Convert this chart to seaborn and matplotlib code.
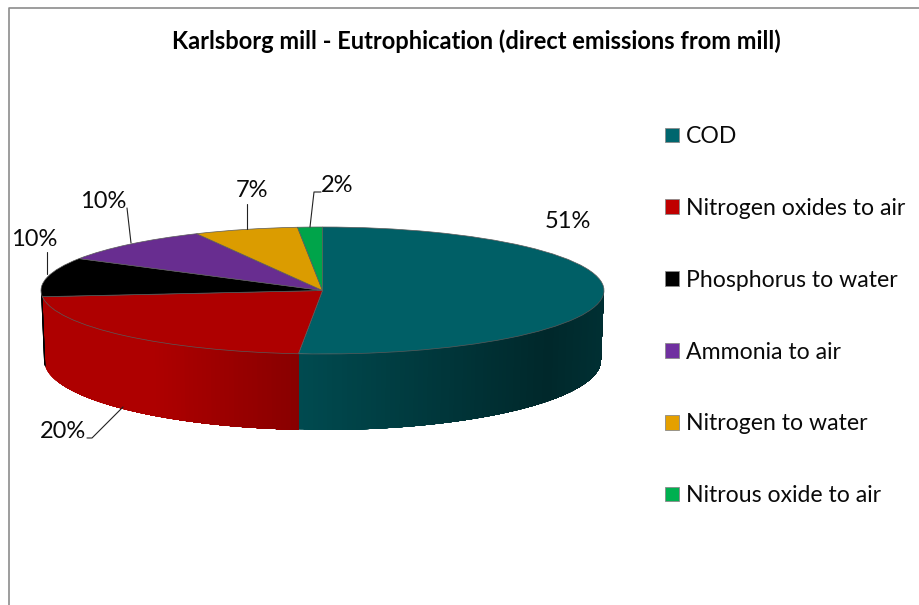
import numpy as np
import matplotlib
matplotlib.use("Agg")
import matplotlib.pyplot as plt
from matplotlib.colors import to_rgb
from matplotlib.patches import Patch
from matplotlib.lines import Line2D
import seaborn as sns

categories = ["COD", "Nitrogen oxides to air", "Phosphorus to water",
              "Ammonia to air", "Nitrogen to water", "Nitrous oxide to air"]
shares = [51, 20, 10, 10, 7, 2]
pct_labels = ["51%", "20%", "10%", "10%", "7%", "2%"]
title = "Karlsborg mill - Eutrophication (direct emissions from mill)"
top_colors = ["#005F66", "#AE0000", "#000000", "#682D90", "#DB9C00", "#00A44A"]
legend_colors = ["#00666E", "#C00000", "#000000", "#7030A0", "#E5A000", "#00B050"]

W, H = 920, 605
sns.set_theme(style="white")
plt.rcParams["font.family"] = ["Lato", "DejaVu Sans"]
palette = sns.color_palette(top_colors)

fig = plt.figure(figsize=(W / 100, H / 100), dpi=100, facecolor="white")
cx, cy, rx, ry = 322.5, 290.5, 281.5, 63.5
ax = fig.add_axes([0, 0, 1, 1])


def px(x, y):
    """pixel position in the reference -> figure fraction"""
    return x / W, 1 - y / H


# the tilted view stretches the far-left part of the pie
cum = np.concatenate([[0], np.cumsum(shares)]) / np.sum(shares) * 360
warped = cum + 9 * np.clip(-np.sin(np.radians(cum)), 0, None) ** 0.7
drawn = np.diff(warped)

# side wall between the top rim and a bottom ellipse, shaded along x
b_rx, b_cy, b_ry = 278.5 / rx, -(360 - cy) / ry, 70 / ry
sx = [-1, -0.6, -0.08, 0.8, 1]
sv = [1, 1, 0.78, 0.42, 0.5]
order = 1
for i, col in enumerate(palette):
    # math angles of the wedge, limited to the front range -180..0
    lo = max(90 - warped[i + 1], -180)
    hi = min(90 - warped[i], 0)
    if hi <= lo:
        continue
    # painter's order: each strip runs on to the wedge end, so no seams
    for st in np.arange(lo, hi, 1.0):
        tt = np.radians(np.linspace(st, hi, max(3, int(hi - st) * 2 + 1)))
        xs = np.concatenate([np.cos(tt), b_rx * np.cos(tt[::-1])])
        ys = np.concatenate([np.sin(tt), b_cy + b_ry * np.sin(tt[::-1])])
        f = np.interp(np.cos(np.radians(st + 0.5)), sx, sv)
        c = tuple(np.array(to_rgb(col)) * f)
        ax.fill(xs, ys, facecolor=c, edgecolor="none", zorder=order)
        order += 0.001

wedges, _ = ax.pie(drawn, colors=palette, startangle=90, counterclock=False,
                   wedgeprops=dict(edgecolor="#5a5a5a", linewidth=0.5))
ax.set_aspect("auto")
ax.set_xlim((0 - cx) / rx, (W - cx) / rx)
ax.set_ylim((cy - H) / ry, cy / ry)
ax.axis("off")

for w in wedges:
    w.set_zorder(5)

# frame of the chart area
fig.add_artist(Line2D(*zip(px(8.5, H), px(8.5, 7.5), px(W, 7.5)), color="#8c8c8c", lw=1.2))

# title
tx, ty = px(476, 41.5)
fig.text(tx, ty, title, ha="center", va="center", fontsize=17, fontweight="bold", color="black")

# data labels
label_pos = [(568, 222), (63, 432), (34, 239), (103, 201), (252, 190), (337, 186)]
for s, (x, y) in zip(pct_labels, label_pos):
    fx, fy = px(x, y)
    fig.text(fx, fy, s, ha="center", va="center", fontsize=17, color="#0a0a0a")

# leader lines
leaders = [
    [(123, 407), (92, 438), (87, 438)],
    [(47, 274), (47, 252)],
    [(131, 243), (127, 208)],
    [(247, 229), (247, 204)],
    [(310, 227), (314, 192), (321, 192)],
]
for path in leaders:
    fig.add_artist(Line2D(*zip(*[px(*p) for p in path]), color="#222222", lw=0.8))

# legend
handles = [Patch(facecolor=c, edgecolor="#8a8a8a", linewidth=0.6) for c in legend_colors]
lx, ly = px(665, 126)
fig.legend(handles, categories, loc="upper left", bbox_to_anchor=(lx, ly), frameon=False,
           fontsize=16.6, handlelength=0.6, handleheight=0.6, handletextpad=0.32,
           labelspacing=2.205, borderpad=0, borderaxespad=0, labelcolor="#0a0a0a")

fig.savefig("out.png", dpi=100, facecolor="white")
